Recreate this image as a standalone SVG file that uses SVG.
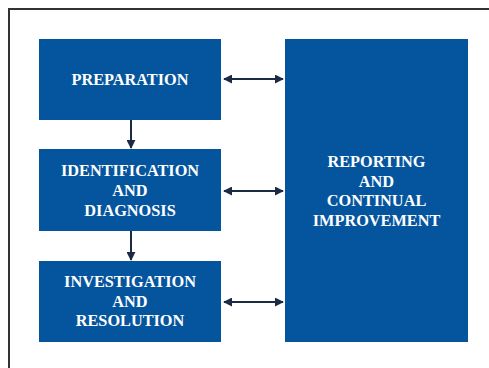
<svg xmlns="http://www.w3.org/2000/svg" width="489" height="368" viewBox="0 0 489 368">
  <style>
    .box { fill: #05559e; }
    .lbl { font-family: "Liberation Serif", "Times New Roman", serif; font-weight: bold; font-size: 16.3px; fill: #ffffff; text-anchor: middle; }
    .link { stroke: #1b2a45; stroke-width: 2; fill: none; }
  </style>
  <defs>
    <marker id="head" viewBox="0 0 10 10" refX="9" refY="5" markerWidth="4.5" markerHeight="4.5" orient="auto-start-reverse" markerUnits="strokeWidth">
      <path d="M0,0 L10,5 L0,10 z" fill="#1b2a45"/>
    </marker>
  </defs>
  <rect width="489" height="368" fill="#ffffff"/>
  <!-- outer frame -->
  <path d="M9,368 V9 H489" fill="none" stroke="#333333" stroke-width="2"/>

  <g id="preparation">
    <rect class="box" x="39" y="39" width="182" height="81"/>
    <text class="lbl" x="130" y="85">PREPARATION</text>
  </g>
  <g id="identification">
    <rect class="box" x="39" y="149" width="182" height="82"/>
    <text class="lbl" x="130" y="176">IDENTIFICATION</text>
    <text class="lbl" x="130" y="196">AND</text>
    <text class="lbl" x="130" y="216">DIAGNOSIS</text>
  </g>
  <g id="investigation">
    <rect class="box" x="39" y="261" width="182" height="81"/>
    <text class="lbl" x="130" y="286.5">INVESTIGATION</text>
    <text class="lbl" x="130" y="306.5">AND</text>
    <text class="lbl" x="130" y="326">RESOLUTION</text>
  </g>
  <g id="reporting">
    <rect class="box" x="285" y="39" width="183" height="303"/>
    <text class="lbl" x="376.5" y="166.5">REPORTING</text>
    <text class="lbl" x="376.5" y="186.5">AND</text>
    <text class="lbl" x="376.5" y="206">CONTINUAL</text>
    <text class="lbl" x="376.5" y="226">IMPROVEMENT</text>
  </g>

  <g id="connectors">
    <line class="link" x1="224" y1="79" x2="283" y2="79" marker-start="url(#head)" marker-end="url(#head)"/>
    <line class="link" x1="224" y1="191" x2="283" y2="191" marker-start="url(#head)" marker-end="url(#head)"/>
    <line class="link" x1="224" y1="302" x2="283" y2="302" marker-start="url(#head)" marker-end="url(#head)"/>
    <line class="link" x1="131" y1="120" x2="131" y2="148" marker-end="url(#head)"/>
    <line class="link" x1="131" y1="231" x2="131" y2="260" marker-end="url(#head)"/>
  </g>
</svg>
